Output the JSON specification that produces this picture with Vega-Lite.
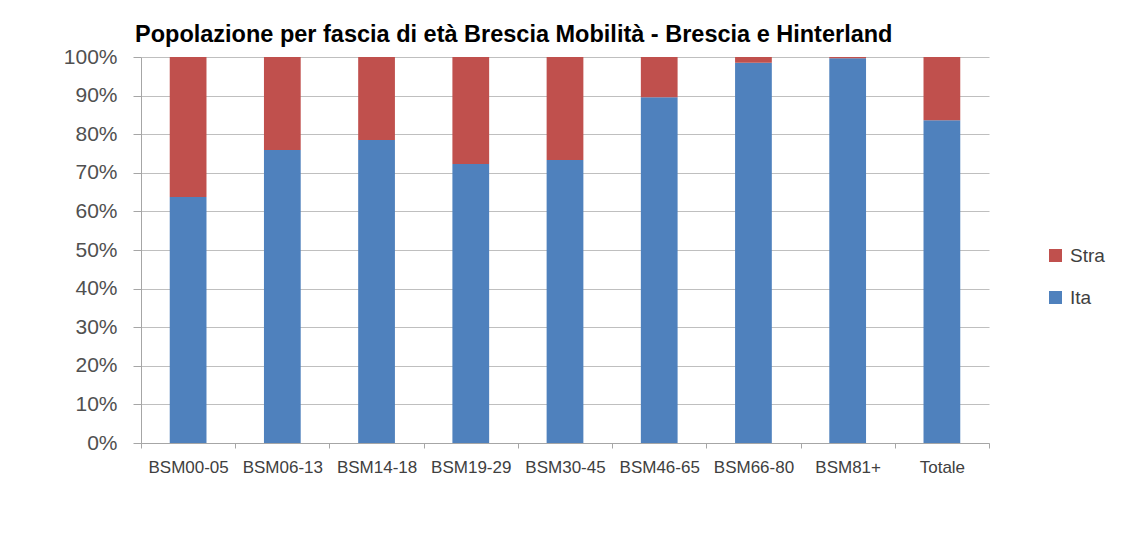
{
  "$schema": "https://vega.github.io/schema/vega-lite/v6.json",
  "autosize": "none",
  "width": 848,
  "height": 386,
  "padding": {"left": 141, "top": 57, "right": 132, "bottom": 90},
  "background": "white",
  "title": {
    "text": "Popolazione per fascia di età Brescia Mobilità - Brescia e Hinterland",
    "anchor": "start",
    "frame": "group",
    "dx": -6,
    "offset": 0,
    "font": "Liberation Sans",
    "fontSize": 23.5,
    "fontWeight": "bold",
    "color": "#000000"
  },
  "data": {
    "values": [
      {"fascia": "BSM00-05", "serie": "Ita", "valore": 63.7},
      {"fascia": "BSM00-05", "serie": "Stra", "valore": 36.3},
      {"fascia": "BSM06-13", "serie": "Ita", "valore": 75.9},
      {"fascia": "BSM06-13", "serie": "Stra", "valore": 24.1},
      {"fascia": "BSM14-18", "serie": "Ita", "valore": 78.5},
      {"fascia": "BSM14-18", "serie": "Stra", "valore": 21.5},
      {"fascia": "BSM19-29", "serie": "Ita", "valore": 72.3},
      {"fascia": "BSM19-29", "serie": "Stra", "valore": 27.7},
      {"fascia": "BSM30-45", "serie": "Ita", "valore": 73.3},
      {"fascia": "BSM30-45", "serie": "Stra", "valore": 26.7},
      {"fascia": "BSM46-65", "serie": "Ita", "valore": 89.6},
      {"fascia": "BSM46-65", "serie": "Stra", "valore": 10.4},
      {"fascia": "BSM66-80", "serie": "Ita", "valore": 98.5},
      {"fascia": "BSM66-80", "serie": "Stra", "valore": 1.5},
      {"fascia": "BSM81+", "serie": "Ita", "valore": 99.7},
      {"fascia": "BSM81+", "serie": "Stra", "valore": 0.3},
      {"fascia": "Totale", "serie": "Ita", "valore": 83.6},
      {"fascia": "Totale", "serie": "Stra", "valore": 16.4}
    ]
  },
  "mark": {"type": "bar", "width": {"band": 0.39}},
  "encoding": {
    "x": {
      "field": "fascia",
      "type": "nominal",
      "sort": null,
      "scale": {"paddingInner": 0, "paddingOuter": 0},
      "axis": {
        "title": null,
        "labelAngle": 0,
        "tickBand": "extent",
        "tickSize": 5,
        "tickColor": "#A6A6A6",
        "domainColor": "#A6A6A6",
        "labelFont": "Liberation Sans",
        "labelFontSize": 17,
        "labelColor": "#404040",
        "labelPadding": 11,
        "labelLimit": 200
      }
    },
    "y": {
      "field": "valore",
      "type": "quantitative",
      "stack": "normalize",
      "scale": {"domain": [0, 1], "nice": false},
      "axis": {
        "title": null,
        "format": ".0%",
        "values": [0, 0.1, 0.2, 0.3, 0.4, 0.5, 0.6, 0.7, 0.8, 0.9, 1],
        "grid": true,
        "gridColor": "#BFBFBF",
        "gridWidth": 1,
        "tickSize": 8,
        "tickColor": "#A6A6A6",
        "domainColor": "#A6A6A6",
        "labelFont": "Liberation Sans",
        "labelFontSize": 21,
        "labelColor": "#505050",
        "labelPadding": 16
      }
    },
    "color": {
      "field": "serie",
      "type": "nominal",
      "sort": "descending",
      "scale": {"domain": ["Stra", "Ita"], "range": ["#C0504D", "#4F81BD"]},
      "legend": {
        "title": null,
        "orient": "none",
        "legendX": 905,
        "legendY": 189,
        "padding": 0,
        "symbolType": "square",
        "symbolSize": 169,
        "symbolStrokeWidth": 0,
        "symbolOpacity": 1,
        "labelFont": "Liberation Sans",
        "labelFontSize": 19,
        "labelColor": "#404040",
        "labelOffset": 5,
        "rowPadding": 22
      }
    },
    "order": {"field": "serie", "sort": "ascending"}
  },
  "config": {
    "view": {"stroke": null},
    "axis": {"domainWidth": 1}
  }
}
